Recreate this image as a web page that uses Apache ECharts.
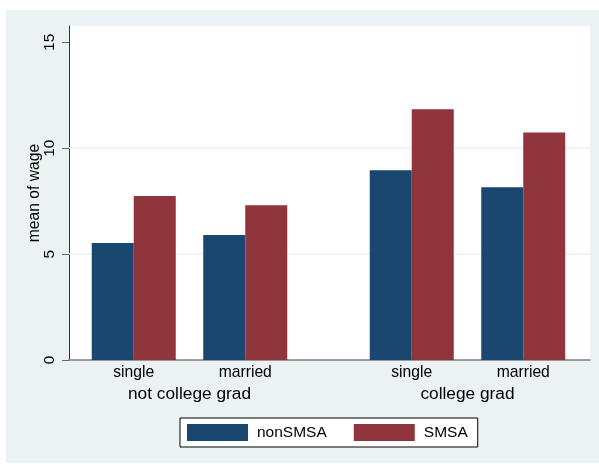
<!DOCTYPE html>
<html>
<head>
<meta charset="utf-8">
<script src="https://cdn.jsdelivr.net/npm/echarts@6/dist/echarts.min.js"></script>
<style>html,body{margin:0;padding:0;background:#fff}#c{width:599px;height:464px}</style>
</head>
<body>
<div id="c"></div>
<script>
var categories = ['single', 'married'];
var groups = ['not college grad', 'college grad'];
var seriesNames = ['nonSMSA', 'SMSA'];
var nonSMSA = [[5.53, 5.90], [8.96, 8.16]];
var SMSA = [[7.74, 7.31], [11.84, 10.74]];
var yTicks = [0, 5, 10, 15];
var yGrid = [5, 10];
var yMax = 15.77;

var FONT = 'Liberation Sans, Arial, Helvetica, sans-serif';
var NAVY = '#1a476f', MAROON = '#90353b', BG = '#eaf2f3';

var chart = echarts.init(document.getElementById('c'), null, {renderer: 'canvas'});

var grids = [{left: 69, top: 26, width: 521, height: 334, show: true, backgroundColor: '#ffffff', borderWidth: 0},
             {left: 78, top: 26, width: 223, height: 334},
             {left: 356, top: 26, width: 223, height: 334}];

var xAxes = [{gridIndex: 0, type: 'value', min: 0, max: 1,
              axisLine: {show: true, onZero: false, lineStyle: {color: '#7f7f7f', width: 1.5}},
              axisTick: {show: false}, axisLabel: {show: false}, splitLine: {show: false}}];
var yAxes = [{gridIndex: 0, type: 'value', min: 0, max: yMax,
              axisLine: {show: true, lineStyle: {color: '#333333', width: 1}},
              axisTick: {show: true, customValues: yTicks, length: 7, lineStyle: {color: '#666666'}},
              axisLabel: {customValues: yTicks, rotate: 90, margin: 11, fontSize: 15.5, color: '#000', fontFamily: FONT},
              splitLine: {show: false},
              name: 'mean of wage', nameLocation: 'middle', nameGap: 26, nameMoveOverlap: false,
              nameTextStyle: {fontSize: 15.7, color: '#000', fontFamily: FONT}}];
groups.forEach(function (g, i) {
  xAxes.push({gridIndex: i + 1, type: 'category', data: categories,
    axisLine: {show: false}, axisTick: {show: false},
    axisLabel: {fontSize: 15.7, color: '#000', margin: 5, fontFamily: FONT},
    name: g, nameLocation: 'middle', nameGap: 26, nameMoveOverlap: false,
    nameTextStyle: {fontSize: 17.3, color: '#000', fontFamily: FONT}});
  yAxes.push({gridIndex: i + 1, type: 'value', min: 0, max: yMax, show: false, splitLine: {show: false}});
});

var series = [{type: 'line', xAxisIndex: 0, yAxisIndex: 0, data: [], z: 1, silent: true,
  markLine: {silent: true, symbol: 'none', label: {show: false}, z: 1,
    lineStyle: {color: BG, type: 'solid', width: 1.5},
    data: yGrid.map(function (v) { return {yAxis: v}; })}}];
groups.forEach(function (g, i) {
  series.push({name: seriesNames[0], type: 'bar', xAxisIndex: i + 1, yAxisIndex: i + 1,
    data: nonSMSA[i], barWidth: 42, barGap: '0%', itemStyle: {color: NAVY}, z: 3});
  series.push({name: seriesNames[1], type: 'bar', xAxisIndex: i + 1, yAxisIndex: i + 1,
    data: SMSA[i], barWidth: 42, barGap: '0%', itemStyle: {color: MAROON}, z: 3});
});

chart.setOption({
  animation: false,
  backgroundColor: '#ffffff',
  graphic: [{type: 'rect', left: 6, top: 10, z: -100, shape: {width: 593, height: 453}, style: {fill: BG}, silent: true}],
  grid: grids,
  xAxis: xAxes,
  yAxis: yAxes,
  legend: {data: seriesNames, left: 180, top: 418, orient: 'horizontal',
    icon: 'rect', itemWidth: 61, itemHeight: 17, itemGap: 27,
    padding: [6, 10, 6, 7], backgroundColor: '#ffffff', borderColor: '#000000', borderWidth: 1,
    textStyle: {fontSize: 15.5, color: '#000', fontFamily: FONT, padding: [0, 0, 0, 4]}},
  series: series
});
</script>
</body>
</html>
